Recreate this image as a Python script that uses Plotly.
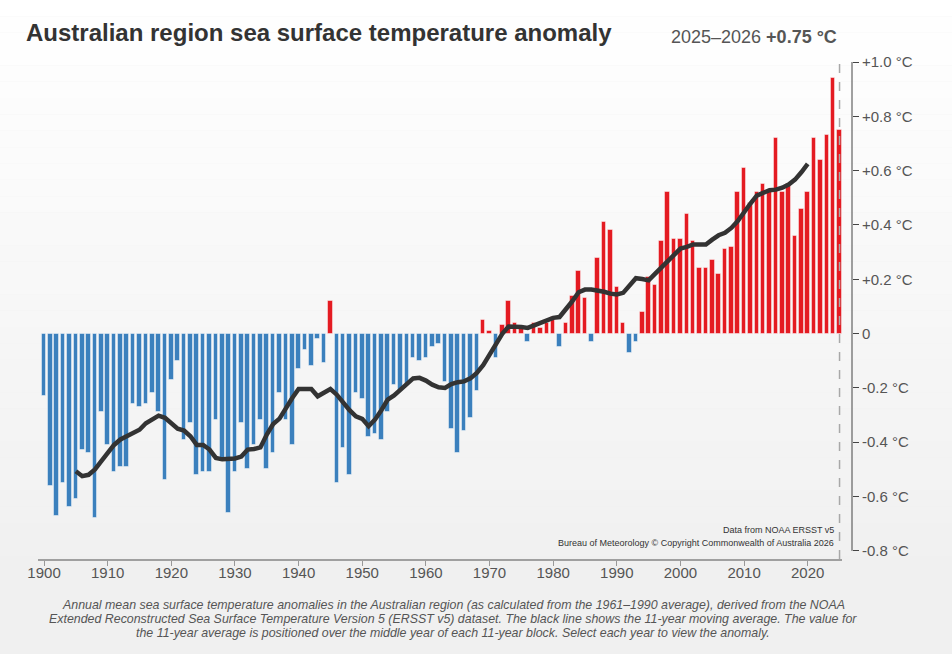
import plotly.graph_objects as go

# annual anomaly (°C, vs 1961-1990)
years = list(range(1900, 2026))
anomaly = [
    -0.23, -0.56, -0.67, -0.55, -0.64, -0.61, -0.43, -0.44, -0.68, -0.29,  # 1900s
    -0.41, -0.51, -0.49, -0.49, -0.26, -0.27, -0.26, -0.22, -0.29, -0.54,  # 1910s
    -0.17, -0.10, -0.39, -0.33, -0.52, -0.51, -0.51, -0.32, -0.47, -0.66,  # 1920s
    -0.51, -0.33, -0.50, -0.41, -0.32, -0.50, -0.44, -0.22, -0.32, -0.41,  # 1930s
    -0.13, -0.06, -0.12, -0.02, -0.11, 0.12, -0.55, -0.42, -0.52, -0.22,   # 1940s
    -0.24, -0.38, -0.37, -0.39, -0.29, -0.19, -0.21, -0.19, -0.09, -0.10,  # 1950s
    -0.09, -0.05, -0.04, -0.18, -0.35, -0.44, -0.36, -0.31, -0.21, 0.05,   # 1960s
    0.01, -0.09, 0.03, 0.12, 0.04, 0.02, -0.03, 0.04, 0.02, 0.04,          # 1970s
    0.06, -0.05, 0.04, 0.14, 0.23, 0.13, -0.03, 0.28, 0.41, 0.38,          # 1980s
    0.17, 0.04, -0.07, -0.03, 0.08, 0.21, 0.18, 0.34, 0.52, 0.35,          # 1990s
    0.35, 0.44, 0.34, 0.24, 0.24, 0.27, 0.22, 0.31, 0.32, 0.52,            # 2000s
    0.61, 0.48, 0.52, 0.55, 0.52, 0.72, 0.52, 0.55, 0.36, 0.46,            # 2010s
    0.52, 0.72, 0.64, 0.73, 0.94, 0.75,                                    # 2020s
]

# 11-year moving average, plotted on the middle year
avg_years = list(range(1905, 2021))
avg_values = [
    -0.507, -0.525, -0.52, -0.50, -0.47,
    -0.44, -0.41, -0.39, -0.378, -0.366, -0.354, -0.33, -0.314, -0.302, -0.31,
    -0.33, -0.35, -0.357, -0.378, -0.41, -0.41, -0.427, -0.458, -0.463, -0.463,
    -0.46, -0.453, -0.427, -0.425, -0.419, -0.372, -0.333, -0.313, -0.271, -0.237,
    -0.204, -0.204, -0.204, -0.231, -0.218, -0.204, -0.225, -0.255, -0.282, -0.305,
    -0.314, -0.341, -0.317, -0.282, -0.243, -0.228, -0.206, -0.185, -0.165, -0.163,
    -0.173, -0.188, -0.198, -0.20, -0.186, -0.179, -0.176, -0.165, -0.145, -0.116,
    -0.076, -0.034, -0.001, 0.026, 0.026, 0.024, 0.021, 0.031, 0.039, 0.049,
    0.058, 0.061, 0.088, 0.119, 0.152, 0.162, 0.162, 0.16, 0.154, 0.147,
    0.144, 0.15, 0.18, 0.204, 0.201, 0.196, 0.22, 0.244, 0.269, 0.293,
    0.313, 0.319, 0.328, 0.328, 0.328, 0.346, 0.362, 0.371, 0.389, 0.414,
    0.45, 0.479, 0.508, 0.518, 0.528, 0.53, 0.537, 0.549, 0.567, 0.594,
    0.625,
]

y_ticks = [-0.8, -0.6, -0.4, -0.2, 0, 0.2, 0.4, 0.6, 0.8, 1.0]
y_labels = ["-0.8 °C", "-0.6 °C", "-0.4 °C", "-0.2 °C", "0",
            "+0.2 °C", "+0.4 °C", "+0.6 °C", "+0.8 °C", "+1.0 °C"]
x_ticks = [1900, 1910, 1920, 1930, 1940, 1950, 1960, 1970, 1980, 1990, 2000, 2010, 2020]

latest_label = "2025–2026"
latest_value = "+0.75 °C"

BLUE = "#3b80bd"
RED = "#e41b22"
FONT = "Liberation Sans, Arial, sans-serif"

W, H = 952, 654
ML, MR, MT, MB = 38, 90, 62, 95
pw = W - ML - MR
ph = H - MT - MB


def px(x):
    return (x - ML) / pw


def py(y):
    return (H - MB - y) / ph


fig = go.Figure()

fig.add_trace(go.Bar(
    x=years, y=anomaly, width=0.72,
    marker=dict(color=[RED if v > 0 else BLUE for v in anomaly],
                line=dict(color="rgba(255,255,255,0.45)", width=1)),
    hovertemplate="%{x}: %{y:+.2f} °C<extra></extra>",
    showlegend=False,
))

fig.add_trace(go.Scatter(
    x=avg_years, y=avg_values, mode="lines",
    line=dict(color="#333333", width=4.5),
    hoverinfo="skip", showlegend=False,
))

# soft white-to-grey background
shapes = []
n = 40
for i in range(n):
    y0 = H * i / n
    y1 = H * (i + 1) / n
    c = int(round(255 - 15 * min(1.0, (y0 + y1) / 2 / 580)))
    shapes.append(dict(type="rect", xref="paper", yref="paper", layer="below",
                       x0=px(0), x1=px(W), y0=py(y1), y1=py(y0),
                       fillcolor=f"rgb({c},{c},{c})", line=dict(width=0)))

y_axis_pos = px(852)
# y-axis line from -0.8 to +1.0
shapes.append(dict(type="line", xref="paper", yref="y", x0=y_axis_pos, x1=y_axis_pos,
                   y0=-0.8, y1=1.0, line=dict(color="#444444", width=1)))
# current year marker
shapes.append(dict(type="line", xref="x", yref="paper", x0=2025, x1=2025,
                   y0=0, y1=py(60), line=dict(color="#a8a8a8", width=1.5, dash="dash")))

annotations = [
    dict(text="<b>Australian region sea surface temperature anomaly</b>",
         x=px(24), y=py(33), xanchor="left", yanchor="middle",
         font=dict(size=24, color="#333333")),
    dict(text=f"{latest_label} <b>{latest_value}</b>",
         x=px(839), y=py(37), xanchor="right", yanchor="middle",
         font=dict(size=18, color="#555555")),
    dict(text="Data from NOAA ERSST v5",
         x=px(836), y=py(530), xanchor="right", yanchor="middle",
         font=dict(size=9, color="#333333")),
    dict(text="Bureau of Meteorology © Copyright Commonwealth of Australia 2026",
         x=px(836), y=py(543), xanchor="right", yanchor="middle",
         font=dict(size=9, color="#333333")),
]

caption = [
    "Annual mean sea surface temperature anomalies in the Australian region (as calculated from the 1961–1990 average), derived from the NOAA",
    "Extended Reconstructed Sea Surface Temperature Version 5 (ERSST v5) dataset. The black line shows the 11-year moving average. The value for",
    "the 11-year average is positioned over the middle year of each 11-year block. Select each year to view the anomaly.",
]
for i, line in enumerate(caption):
    annotations.append(dict(text=f"<i>{line}</i>", x=px(453), y=py(605 + 14 * i),
                            xanchor="center", yanchor="middle",
                            font=dict(size=12.4, color="#555555")))

for a in annotations:
    a.update(xref="paper", yref="paper", showarrow=False)

fig.update_layout(
    width=W, height=H,
    margin=dict(l=ML, r=MR, t=MT, b=MB),
    paper_bgcolor="#f0f0f0",
    plot_bgcolor="rgba(0,0,0,0)",
    font=dict(family=FONT, color="#555555"),
    shapes=shapes,
    annotations=annotations,
    bargap=0,
    xaxis=dict(
        range=[1899.05, 2025.45], domain=[0, px(842.4)],
        tickvals=x_ticks, ticks="outside", ticklen=5, tickcolor="#999999",
        ticklabelstandoff=-6,
        showline=True, linecolor="#a0a0a0", linewidth=2,
        showgrid=False, zeroline=False,
        tickfont=dict(size=15, color="#555555"),
    ),
    yaxis=dict(
        range=[-0.83, 1.0], anchor="free", position=y_axis_pos, side="right",
        tickvals=y_ticks, ticktext=y_labels,
        ticks="outside", ticklen=6, tickcolor="#444444",
        showline=False, showgrid=False, zeroline=False,
        tickfont=dict(size=15, color="#555555"),
    ),
)

# page body has a default 8px margin; drop it so the figure fills the window
fig.write_html("out.html", config={"displayModeBar": False},
               post_script="document.body.style.margin='0';")
